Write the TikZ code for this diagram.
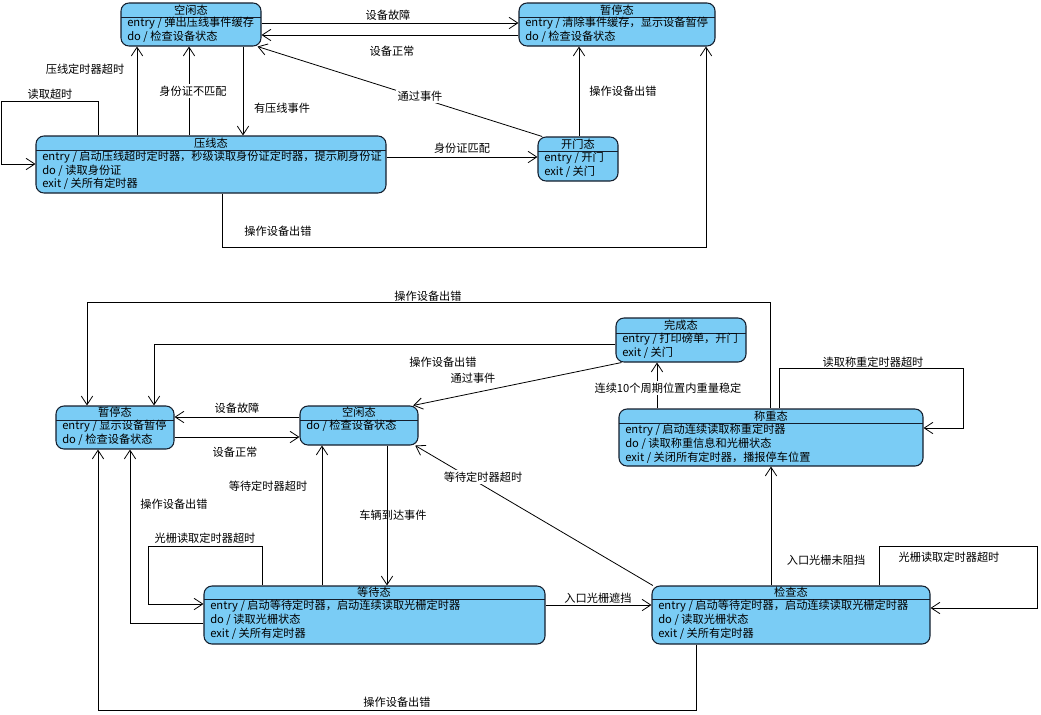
\documentclass[tikz,border=0pt]{standalone}
\usepackage{fontspec}
\setmainfont{Noto Sans CJK SC}
\usetikzlibrary{arrows.meta,fit}
\definecolor{stblue}{RGB}{122,204,245}
\definecolor{stline}{RGB}{20,30,45}
\begin{document}
\begin{tikzpicture}[x=0.75pt,y=-0.75pt,
 st/.style={draw=stline, fill=stblue, rounded corners=6pt, inner sep=0pt, line width=0.8pt},
 dv/.style={draw=stline, line width=0.7pt},
 ttl/.style={font=\fontsize{8.4pt}{10pt}\selectfont, inner sep=0pt},
 row/.style={font=\fontsize{8.4pt}{10pt}\selectfont, inner sep=0pt, anchor=west},
 lbl/.style={font=\fontsize{8.4pt}{10pt}\selectfont, inner sep=1pt},
 wlbl/.style={lbl, fill=white},
 tr/.style={draw=black, line width=0.6pt, line join=miter, -{Straight Barb[length=6.5pt,width=8.5pt]}},
]
\fill[white] (0,0) rectangle (1041,714);
\useasboundingbox (0,0) rectangle (1041,714);

% ---------------- top states ----------------
\node[st, fit={(121,3)(261,46)}] (idleT) {};
\draw[dv] (121,17) -- (261,17);
\node[ttl] (idleTt) at (191,10) {空闲态};
\node[row] (idleTa) at (127,23.5) {entry / 弹出压线事件缓存};
\node[row] (idleTb) at (127,37) {do / 检查设备状态};

\node[st, fit={(519,3)(715,46)}] (pauseT) {};
\draw[dv] (519,17) -- (715,17);
\node[ttl] (pauseTt) at (617,10) {暂停态};
\node[row] (pauseTa) at (525,23.5) {entry / 清除事件缓存，显示设备暂停};
\node[row] (pauseTb) at (525,37) {do / 检查设备状态};

\node[st, fit={(36,136)(386,193)}] (press) {};
\draw[dv] (36,150) -- (386,150);
\node[ttl] (presst) at (211,143) {压线态};
\node[row] (pressa) at (42,157) {entry / 启动压线超时定时器，秒级读取身份证定时器，提示刷身份证};
\node[row] (pressb) at (42,171) {do / 读取身份证};
\node[row] (pressc) at (42,184) {exit / 关所有定时器};

\node[st, fit={(538,137)(618,181)}] (door) {};
\draw[dv] (538,151) -- (618,151);
\node[ttl] (doort) at (578,144) {开门态};
\node[row] (doora) at (544,158) {entry / 开门};
\node[row] (doorb) at (544,172) {exit / 关门};

% ---------------- bottom states ----------------
\node[st, fit={(56,406)(174,449)}] (pauseB) {};
\draw[dv] (56,420) -- (174,420);
\node[ttl] (pauseBt) at (115,412) {暂停态};
\node[row] (pauseBa) at (62,426) {entry / 显示设备暂停};
\node[row] (pauseBb) at (62,440) {do / 检查设备状态};

\node[st, fit={(300,406)(418,445)}] (idleB) {};
\draw[dv] (300,420) -- (418,420);
\node[ttl] (idleBt) at (359,412) {空闲态};
\node[row] (idleBa) at (306,426) {do / 检查设备状态};

\node[st, fit={(616,318)(746,362)}] (done) {};
\draw[dv] (616,333) -- (746,333);
\node[ttl] (donet) at (681,325) {完成态};
\node[row] (donea) at (622,339) {entry / 打印磅单，开门};
\node[row] (doneb) at (622,353) {exit / 关门};

\node[st, fit={(619,409)(923,466)}] (weigh) {};
\draw[dv] (619,423) -- (923,423);
\node[ttl] (weight) at (771,416) {称重态};
\node[row] (weigha) at (625,430) {entry / 启动连续读取称重定时器};
\node[row] (weighb) at (625,444) {do / 读取称重信息和光栅状态};
\node[row] (weighc) at (625,458) {exit / 关闭所有定时器，播报停车位置};

\node[st, fit={(204,586)(545,644)}] (wait) {};
\draw[dv] (204,599) -- (545,599);
\node[ttl] (waitt) at (374,592) {等待态};
\node[row] (waita) at (210,606) {entry / 启动等待定时器，启动连续读取光栅定时器};
\node[row] (waitb) at (210,620) {do / 读取光栅状态};
\node[row] (waitc) at (210,634) {exit / 关所有定时器};

\node[st, fit={(652,586)(930,644)}] (check) {};
\draw[dv] (652,599) -- (930,599);
\node[ttl] (checkt) at (791,592) {检查态};
\node[row] (checka) at (658,606) {entry / 启动等待定时器，启动连续读取光栅定时器};
\node[row] (checkb) at (658,620) {do / 读取光栅状态};
\node[row] (checkc) at (658,634) {exit / 关所有定时器};

% ---------------- top transitions ----------------
\draw[tr] (idleT.east |- 0,23) -- (pauseT.west |- 0,23);
\draw[tr] (pauseT.west |- 0,35) -- (idleT.east |- 0,35);
\draw[tr] ([xshift=3.5pt]door.north west) -- ([xshift=-3pt]idleT.south east);
\draw[tr] (press.east |- 0,157) -- (door.west |- 0,157);
\draw[tr] (door.north -| 579,0) -- (pauseT.south -| 579,0);
\draw[tr] (press.south -| 222,0) -- (222,247) -- (706,247) -- (pauseT.south -| 706,0);
\draw[tr] (press.north -| 137,0) -- (idleT.south -| 137,0);
\draw[tr] (press.north -| 189,0) -- (idleT.south -| 189,0);
\draw[tr] (idleT.south -| 243,0) -- (press.north -| 243,0);
\draw[tr] (press.north -| 98,0) -- (98,101) -- (1,101) -- (1,164) -- (press.west |- 0,164);

\node[lbl] (l1) at (388,15) {设备故障};
\node[lbl] (l2) at (392,51) {设备正常};
\node[wlbl] (l3) at (420,96) {通过事件};
\node[lbl] (l4) at (462,148) {身份证匹配};
\node[lbl] (l5) at (623,91) {操作设备出错};
\node[lbl] (l6) at (278,231) {操作设备出错};
\node[lbl] (l7) at (85,69) {压线定时器超时};
\node[wlbl] (l8) at (193,91) {身份证不匹配};
\node[lbl] (l9) at (282,108) {有压线事件};
\node[lbl] (l10) at (50,94) {读取超时};

% ---------------- bottom transitions ----------------
\draw[tr] (weigh.north -| 770,0) -- (770,302) -- (87,302) -- (pauseB.north -| 87,0);
\draw[tr] (done.west |- 0,344) -- (154,344) -- (pauseB.north -| 154,0);
\draw[tr] ([xshift=4.5pt]done.south west) -- ([xshift=-4pt]idleB.north east);
\draw[tr] (weigh.north -| 657,0) -- (done.south -| 657,0);
\draw[tr] (weigh.north -| 779,0) -- (779,368) -- (963,368) -- (963,428) -- (weigh.east |- 0,428);
\draw[tr] (idleB.west |- 0,417) -- (pauseB.east |- 0,417);
\draw[tr] (pauseB.east |- 0,437) -- (idleB.west |- 0,437);
\draw[tr] (wait.north -| 322,0) -- (idleB.south -| 322,0);
\draw[tr] (idleB.south -| 387,0) -- (wait.north -| 387,0);
\draw[tr] ([xshift=1pt]check.north west) -- ([xshift=-2.5pt]idleB.south east);
\draw[tr] (wait.west |- 0,623) -- (130,623) -- (pauseB.south -| 130,0);
\draw[tr] (wait.north -| 262,0) -- (262,546) -- (148,546) -- (148,604) -- (wait.west |- 0,604);
\draw[tr] (wait.east |- 0,605) -- (check.west |- 0,605);
\draw[tr] (check.north -| 771,0) -- (weigh.south -| 771,0);
\draw[tr] (check.north -| 879,0) -- (879,546) -- (1037,546) -- (1037,608) -- (check.east |- 0,608);
\draw[tr] (check.south -| 696,0) -- (696,710) -- (98,710) -- (pauseB.south -| 98,0);

\node[lbl] (m1) at (428,296) {操作设备出错};
\node[lbl] (m2) at (443,362) {操作设备出错};
\node[lbl] (m3) at (473,378) {通过事件};
\node[wlbl] (m4) at (668,388) {连续10个周期位置内重量稳定};
\node[lbl] (m5) at (873,362) {读取称重定时器超时};
\node[lbl] (m6) at (237,408) {设备故障};
\node[lbl] (m7) at (235,452) {设备正常};
\node[lbl] (m8) at (268,486) {等待定时器超时};
\node[lbl] (m9) at (393,515) {车辆到达事件};
\node[wlbl] (m10) at (483,477) {等待定时器超时};
\node[lbl] (m11) at (174,504) {操作设备出错};
\node[lbl] (m12) at (205,538) {光栅读取定时器超时};
\node[lbl] (m13) at (598,598) {入口光栅遮挡};
\node[lbl] (m14) at (826,560) {入口光栅未阻挡};
\node[lbl] (m15) at (949,557) {光栅读取定时器超时};
\node[lbl] (m16) at (397,702) {操作设备出错};
\end{tikzpicture}
\end{document}
